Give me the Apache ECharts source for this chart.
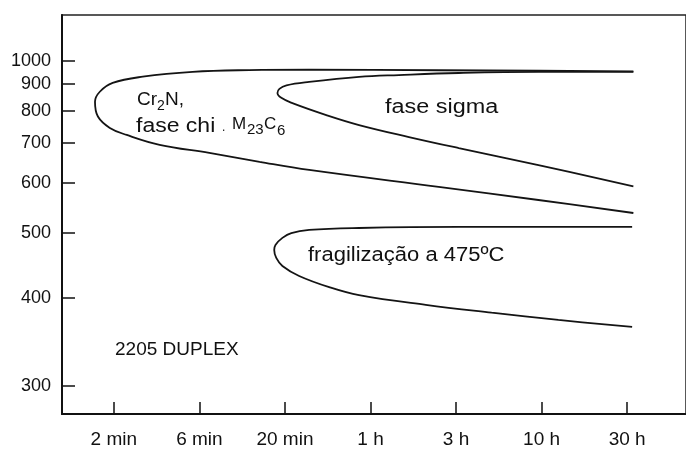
<!DOCTYPE html>
<html>
<head>
<meta charset="utf-8">
<script src="https://cdn.jsdelivr.net/npm/echarts@6/dist/echarts.min.js"></script>
<style>
html,body{margin:0;padding:0;background:#fff;}
#c{width:686px;height:450px;}
</style>
</head>
<body>
<div id="c"></div>
<script>
// Time ticks (minutes) and labels
const tickTimes = [2, 6, 20, 60, 180, 600, 1800];
const tickLabels = ['2 min', '6 min', '20 min', '1 h', '3 h', '10 h', '30 h'];
// Temperature ticks (°C)
const tempTicks = [300, 400, 500, 600, 700, 800, 900, 1000];

// Curves: [time in minutes, temperature in °C]
const cr2nCurve = [
  [1950, 952], [574, 955], [144, 957], [27.3, 960], [12.1, 958], [5.5, 950],
  [2.9, 929], [1.97, 903], [1.67, 868], [1.57, 831], [1.63, 780], [1.90, 744],
  [2.36, 723], [3.6, 695], [6.9, 673], [14.0, 650], [27.3, 630], [144, 591],
  [574, 563], [1950, 537]
];
const sigmaCurve = [
  [1950, 950], [574, 950], [187, 945], [86.4, 936], [51.8, 928], [27.3, 907],
  [20.4, 893], [18.5, 879], [18.0, 863], [19.0, 845], [22.0, 826], [34.0, 785],
  [51.8, 753], [98.3, 717], [187, 686], [574, 642], [1950, 592]
];
const fragCurve = [
  [1919, 511], [574, 511], [187, 511], [51.8, 509], [27.3, 505.5], [21.7, 500],
  [19.3, 491.5], [17.5, 479.6], [17.2, 471], [17.7, 458.4], [19.3, 446],
  [24.0, 431], [35.3, 415], [51.8, 404], [122, 391], [297, 381], [744, 372],
  [1919, 363.5]
];

const tempRange = [274, 1266];

// Time axis: ticks equally spaced, logarithmic between ticks
function tPos(t) {
  const n = tickTimes.length;
  if (t <= tickTimes[0]) return Math.log(t / tickTimes[0]) / Math.log(tickTimes[1] / tickTimes[0]);
  if (t >= tickTimes[n - 1]) return (n - 1) + Math.log(t / tickTimes[n - 1]) / Math.log(tickTimes[n - 1] / tickTimes[n - 2]);
  for (let k = 0; k < n - 1; k++) {
    if (t <= tickTimes[k + 1]) return k + Math.log(t / tickTimes[k]) / Math.log(tickTimes[k + 1] / tickTimes[k]);
  }
}
// Temperature axis: reciprocal absolute temperature
function tU(T) { return 10000 / (T + 273); }
function uT(u) { return 10000 / u - 273; }

function toXY(curve) { return curve.map(p => [tPos(p[0]), tU(p[1])]); }

const xTicks = tickTimes.map(tPos);
const yTicks = tempTicks.map(tU);

const chart = echarts.init(document.getElementById('c'), null, {renderer: 'canvas'});
const ink = '#111';
const lineStyle = {color: '#141414', width: 1.8};
const mkSeries = (name, data) => ({
  name, type: 'line', data: toXY(data), smooth: 0.4, symbol: 'none',
  lineStyle, silent: true
});
const font = '"Liberation Sans", Arial, sans-serif';
function txt(x, y, s, size, extra) {
  return Object.assign({
    type: 'text', x, y, silent: true,
    style: {text: s, fill: ink, font: size + 'px ' + font, textAlign: 'left', textVerticalAlign: 'middle'}
  }, extra || {});
}

chart.setOption({
  animation: false,
  backgroundColor: '#fff',
  grid: {left: 62, right: -2, top: 15, bottom: 36, show: true, borderColor: '#222', borderWidth: 1.5},
  xAxis: {
    type: 'value', min: -0.606, max: 6.688,
    axisLine: {show: true, onZero: false, lineStyle: {color: '#111', width: 2}},
    axisTick: {show: true, inside: true, length: 12, customValues: xTicks, lineStyle: {color: '#111', width: 1.5}},
    axisLabel: {customValues: xTicks, formatter: v => tickLabels[Math.round(v)], fontSize: 19, fontFamily: font, color: '#111', margin: 16},
    splitLine: {show: false}
  },
  yAxis: {
    type: 'value', inverse: true, min: tU(tempRange[1]), max: tU(tempRange[0]),
    axisLine: {show: true, onZero: false, lineStyle: {color: '#111', width: 2}},
    axisTick: {show: true, inside: true, length: 13, customValues: yTicks, lineStyle: {color: '#111', width: 1.5}},
    axisLabel: {customValues: yTicks, formatter: v => String(Math.round(uT(v))), fontSize: 18, fontFamily: font, color: '#111', margin: 11},
    splitLine: {show: false}
  },
  series: [
    mkSeries('Cr2N, fase chi, M23C6', cr2nCurve),
    mkSeries('fase sigma', sigmaCurve),
    mkSeries('fragilização a 475ºC', fragCurve)
  ],
  graphic: [
    txt(137, 100, 'Cr', 19),
    txt(157, 106, '2', 14),
    txt(165, 100, 'N,', 19),
    txt(136, 126, 'fase chi', 20, {scaleX: 1.15}),
    txt(222, 128, '.', 12),
    txt(232, 124, 'M', 17),
    txt(247, 130, '23', 15),
    txt(264, 124, 'C', 17),
    txt(277, 130.5, '6', 15),
    txt(385, 107, 'fase sigma', 20, {scaleX: 1.17}),
    txt(308, 255, 'fragilização a 475ºC', 20, {scaleX: 1.1}),
    txt(115, 350, '2205 DUPLEX', 19)
  ]
});
</script>
</body>
</html>
